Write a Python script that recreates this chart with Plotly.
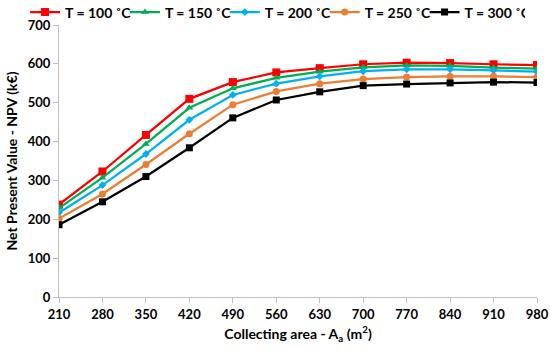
import plotly.graph_objects as go

area = [210, 280, 350, 420, 490, 560, 630, 700, 770, 840, 910, 980]
npv_100 = [238, 323, 417, 510, 553, 578, 589, 599, 603, 602, 599, 597]
npv_150 = [229, 307, 394, 487, 537, 564, 580, 591, 596, 595, 590, 588]
npv_200 = [217, 288, 368, 456, 520, 549, 568, 581, 586, 586, 583, 580]
npv_250 = [202, 265, 341, 420, 495, 529, 549, 561, 566, 568, 568, 566]
npv_300 = [186, 245, 310, 384, 461, 507, 528, 544, 548, 551, 553, 552]

series = [
    ("T = 100 ˚C", npv_100, "#FF0000", "square", 8),
    ("T = 150 ˚C", npv_150, "#00B050", "triangle-up", 7),
    ("T = 200 ˚C", npv_200, "#00B0F0", "diamond", 6),
    ("T = 250 ˚C", npv_250, "#ED7D31", "circle", 7),
    ("T = 300 ˚C", npv_300, "#000000", "square", 7),
]

FONT = "Lato"
fig = go.Figure()
for name, vals, color, sym, size in series:
    fig.add_trace(go.Scatter(
        x=area, y=vals, name=name, mode="lines+markers",
        line=dict(color=color, width=2.25),
        marker=dict(symbol=sym, size=size, color=color),
    ))

fig.update_layout(
    width=550, height=350,
    margin=dict(l=59, r=13, t=25, b=53, autoexpand=False),
    paper_bgcolor="white", plot_bgcolor="white",
    font=dict(family=FONT, size=12, color="black", weight="bold"),
    showlegend=True,
    legend=dict(orientation="h", xref="paper", yref="paper",
                x=-0.071, xanchor="left", y=1.105, yanchor="top",
                font=dict(size=14, family=FONT, weight="bold"),
                itemwidth=30, entrywidthmode="fraction", entrywidth=0.186,
                tracegroupgap=0, bgcolor="rgba(0,0,0,0)"),
    xaxis=dict(range=[210, 980], tickvals=area, ticktext=[str(a) for a in area],
               showgrid=False, zeroline=False, showline=True,
               linecolor="#BFBFBF", linewidth=1, ticks="outside",
               tickcolor="#BFBFBF", ticklen=5,
               tickfont=dict(size=13, family=FONT, weight="bold"),
               title=dict(text="Collecting area - A<sub>a</sub> (m<sup>2</sup>)",
                          font=dict(size=14, family=FONT, weight="bold"), standoff=8)),
    yaxis=dict(range=[0, 700], dtick=100, showgrid=False, zeroline=False,
               showline=True, linecolor="#BFBFBF", linewidth=1,
               ticks="outside", tickcolor="#BFBFBF", ticklen=5,
               tickfont=dict(size=13, family=FONT, weight="bold"),
               title=dict(text="Net Present Value - NPV (k€)",
                          font=dict(size=14, family=FONT, weight="bold"), standoff=6)),
)

fig.write_html("out.html", config={"displayModeBar": False},
               post_script="document.body.style.margin='0';")
